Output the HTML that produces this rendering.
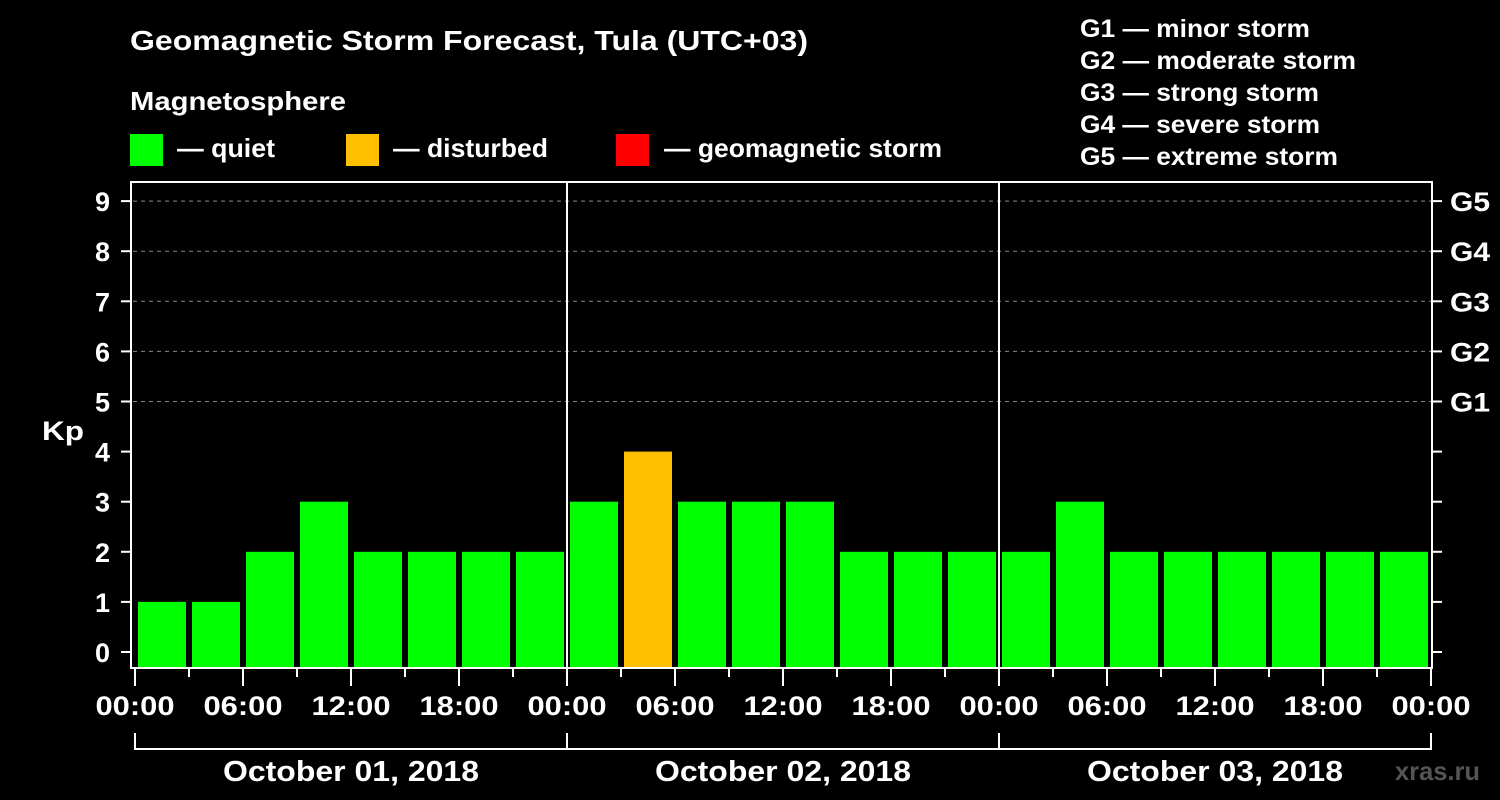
<!DOCTYPE html>
<html><head><meta charset="utf-8"><style>
html,body{margin:0;padding:0;background:#000;}
svg{display:block;font-family:"Liberation Sans",Arial,sans-serif;font-weight:bold;}
</style></head><body>
<svg id="chart" width="1500" height="800">
<rect width="1500" height="800" fill="#000"/>
<text x="130" y="50" fill="#fff" font-size="28" textLength="678" lengthAdjust="spacingAndGlyphs">Geomagnetic Storm Forecast, Tula (UTC+03)</text>
<text x="130" y="110" fill="#fff" font-size="26" textLength="216" lengthAdjust="spacingAndGlyphs">Magnetosphere</text>
<g><rect x="130" y="134" width="33" height="32" fill="#00ff00"/><text x="177" y="157" fill="#fff" font-size="26" textLength="98" lengthAdjust="spacingAndGlyphs">— quiet</text></g>
<g><rect x="346" y="134" width="33" height="32" fill="#ffc000"/><text x="393" y="157" fill="#fff" font-size="26" textLength="155" lengthAdjust="spacingAndGlyphs">— disturbed</text></g>
<g><rect x="616" y="134" width="33" height="32" fill="#ff0000"/><text x="664" y="157" fill="#fff" font-size="26" textLength="278" lengthAdjust="spacingAndGlyphs">— geomagnetic storm</text></g>
<g fill="#fff" font-size="25">
<text x="1080" y="37" textLength="230" lengthAdjust="spacingAndGlyphs">G1 — minor storm</text>
<text x="1080" y="69" textLength="276" lengthAdjust="spacingAndGlyphs">G2 — moderate storm</text>
<text x="1080" y="101" textLength="239" lengthAdjust="spacingAndGlyphs">G3 — strong storm</text>
<text x="1080" y="133" textLength="240" lengthAdjust="spacingAndGlyphs">G4 — severe storm</text>
<text x="1080" y="165" textLength="258" lengthAdjust="spacingAndGlyphs">G5 — extreme storm</text>
</g>
<text x="42" y="440" fill="#fff" font-size="27" textLength="42" lengthAdjust="spacingAndGlyphs">Kp</text>
<text x="1395" y="780" fill="#555" font-size="26" textLength="85" lengthAdjust="spacingAndGlyphs">xras.ru</text>
<g id="plot"></g>
</svg>
<script>
const kpValues=[1,1,2,3,2,2,2,2,3,4,3,3,3,2,2,2,2,3,2,2,2,2,2,2];
const yTicks=[0,1,2,3,4,5,6,7,8,9];
const gLabels=["G1","G2","G3","G4","G5"];
const gLevels=[5,6,7,8,9];
const xTickLabels=["00:00","06:00","12:00","18:00","00:00","06:00","12:00","18:00","00:00","06:00","12:00","18:00","00:00"];
const dayLabels=["October 01, 2018","October 02, 2018","October 03, 2018"];
const NS="http://www.w3.org/2000/svg";
const g=document.getElementById('plot');
const x=h=>135+h*18;
const y=v=>652-v*50.1;
function mk(t,a,p){const e=document.createElementNS(NS,t);for(const k in a)e.setAttribute(k,a[k]);(p||g).appendChild(e);return e;}
gLevels.forEach((v,i)=>{
 const l=mk('line',{x1:133,x2:1431,y1:y(v),y2:y(v),stroke:'#888','stroke-dasharray':'4,4','stroke-width':1});
 
 
 const t=mk('text',{x:1450,y:y(v)+10,fill:'#fff','font-size':27,textLength:40,lengthAdjust:'spacingAndGlyphs'});t.textContent=gLabels[i];
 
 
});
kpValues.forEach((v,i)=>{
 const c=v>=5?'#ff0000':(v>=4?'#ffc000':'#00ff00');
 const top=y(v);
 const b=mk('rect',{x:x(i*3)+3,y:top,width:48,height:667-top,fill:c});
 
 
});
[1,2].forEach(d=>{mk('line',{x1:x(d*24),x2:x(d*24),y1:182,y2:668,stroke:'#fff','stroke-width':2});});
const f=mk('rect',{x:131,y:182,width:1301,height:486,fill:'none',stroke:'#fff','stroke-width':2});


yTicks.forEach(v=>{
 mk('line',{x1:121,x2:131,y1:y(v),y2:y(v),stroke:'#fff','stroke-width':2});
 mk('line',{x1:1432,x2:1442,y1:y(v),y2:y(v),stroke:'#fff','stroke-width':2});
 const t=mk('text',{x:110,y:y(v)+10,fill:'#fff','font-size':27,'text-anchor':'end'});t.textContent=v;
 
 
});
for(let h=0;h<=72;h+=3){
 const major=h%6===0;
 mk('line',{x1:x(h),x2:x(h),y1:669,y2:major?686:677,stroke:'#fff','stroke-width':2});
}
xTickLabels.forEach((s,i)=>{
 const t=mk('text',{x:x(i*6),y:715,fill:'#fff','font-size':27,'text-anchor':'middle',textLength:79,lengthAdjust:'spacingAndGlyphs'});t.textContent=s;
 
 
});
mk('line',{x1:x(0),x2:x(72),y1:749,y2:749,stroke:'#fff','stroke-width':2});
for(let d=0;d<=3;d++)mk('line',{x1:x(d*24),x2:x(d*24),y1:733,y2:750,stroke:'#fff','stroke-width':2});
dayLabels.forEach((s,i)=>{
 const t=mk('text',{x:x(i*24+12),y:781,fill:'#fff','font-size':29,'text-anchor':'middle',textLength:256,lengthAdjust:'spacingAndGlyphs'});t.textContent=s;
 
 
});
</script>
</body></html>
